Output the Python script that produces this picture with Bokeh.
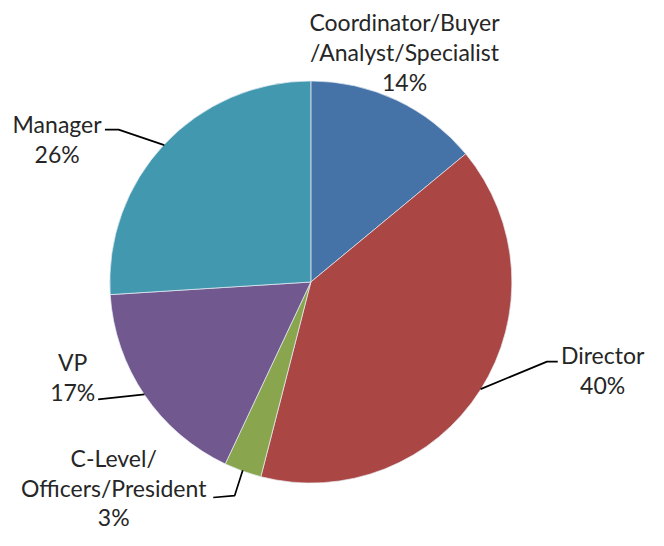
import math
from bokeh.plotting import figure
from bokeh.models import Range1d, ColumnDataSource
from bokeh.core.properties import value
from bokeh.embed import file_html
from bokeh.resources import INLINE

# ---- data ----
categories = ["Coordinator/Buyer\n/Analyst/Specialist", "Director",
              "C-Level/\nOfficers/President", "VP", "Manager"]
shares = [14, 40, 3, 17, 26]
colors = ["#4572A7", "#AA4643", "#89A54E", "#71588F", "#4198AF"]

# ---- layout (reference pixel coordinates, y down) ----
W, H = 664, 546
CX, CY, R = 318, 290, 206
label_pos = [(414, 53), (617, 381), (116, 502), (74, 388), (58, 143)]
# leader line: label-end point, elbow point (None = straight)
leader = [None, ((571, 372), (560, 372)), ((218, 512), (240, 510)),
          ((100, 411), None), ((107, 133), (121, 133))]

def Y(y):
    return H - y

p = figure(width=648, height=530, output_backend="svg", toolbar_location=None,
           x_range=Range1d(0, W), y_range=Range1d(0, H), min_border=0)
p.axis.visible = False
p.grid.visible = False
p.outline_line_color = None
p.background_fill_color = "white"
p.border_fill_color = "white"

total = float(sum(shares))
starts, ends, mids = [], [], []
cum = 0.0
for v in shares:
    a0 = math.pi / 2 - 2 * math.pi * cum / total
    cum += v
    a1 = math.pi / 2 - 2 * math.pi * cum / total
    starts.append(a0)
    ends.append(a1)
    mids.append((a0 + a1) / 2)

src = ColumnDataSource(dict(start=starts, end=ends, color=colors))
p.wedge(x=CX, y=Y(CY), radius=R, start_angle="start", end_angle="end",
        direction="clock", fill_color="color", line_color="#e8eef5",
        line_width=1, line_alpha=0.7, source=src)

# leader lines
xs, ys = [], []
for m, ld in zip(mids, leader):
    if ld is None:
        continue
    ex = CX + R * math.cos(m)
    ey = Y(CY) + R * math.sin(m)
    lx, ly = ld[0]
    pts = [(lx, Y(ly))]
    if ld[1] is not None:
        pts.append((ld[1][0], Y(ld[1][1])))
    pts.append((ex, ey))
    xs.append([q[0] for q in pts])
    ys.append([q[1] for q in pts])
p.multi_line(xs=xs, ys=ys, line_color="black", line_width=1.7)

texts = [f"{c}\n{v}%" for c, v in zip(categories, shares)]
p.text(x=[q[0] for q in label_pos], y=[Y(q[1]) for q in label_pos], text=texts,
       text_font=value("Lato"), text_font_size="23px", text_color="#262626",
       text_align="center", text_baseline="middle", text_line_height=1.06)

open("out.html", "w").write(file_html(p, INLINE))
